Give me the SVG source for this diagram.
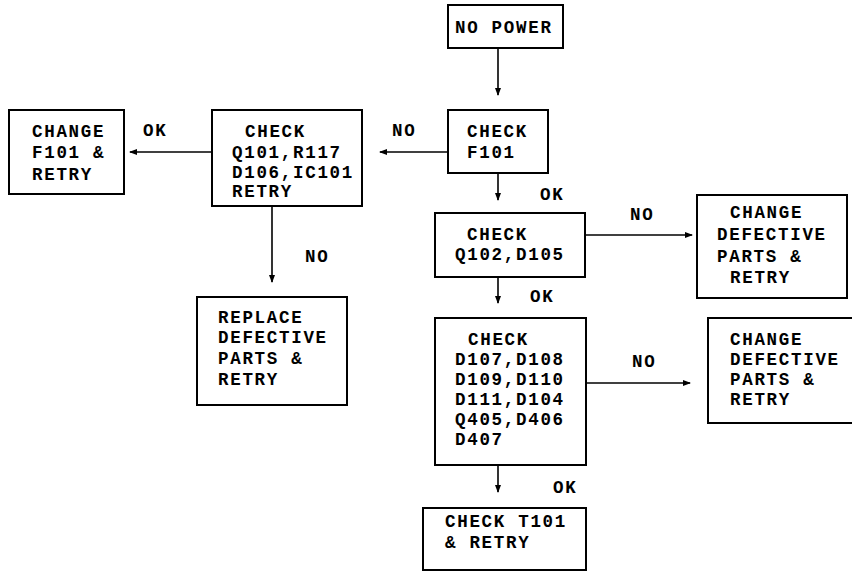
<svg xmlns="http://www.w3.org/2000/svg" width="852" height="571" viewBox="0 0 852 571">
<defs>
<style>
.box{fill:#fff;stroke:#000;stroke-width:2}
text{font-family:"Liberation Mono","Courier New",monospace;font-weight:bold;font-size:17.5px;letter-spacing:1.7px;fill:#000}
.ln{stroke:#000;stroke-width:1.6;fill:none}
</style>
<marker id="ah" markerWidth="8" markerHeight="6" refX="7" refY="3" orient="auto" markerUnits="userSpaceOnUse">
<path d="M0,0 L8,3 L0,6 z" fill="#000"/>
</marker>
</defs>
<rect width="852" height="571" fill="#fff"/>
<g id="connectors">
<line class="ln" x1="498" y1="48" x2="498" y2="95" marker-end="url(#ah)"/>
<line class="ln" x1="448" y1="152" x2="380" y2="152" marker-end="url(#ah)"/>
<line class="ln" x1="212" y1="152" x2="130" y2="152" marker-end="url(#ah)"/>
<line class="ln" x1="272" y1="206" x2="272" y2="282" marker-end="url(#ah)"/>
<line class="ln" x1="498" y1="173" x2="498" y2="200" marker-end="url(#ah)"/>
<line class="ln" x1="586" y1="235" x2="692" y2="235" marker-end="url(#ah)"/>
<line class="ln" x1="498" y1="277" x2="498" y2="303" marker-end="url(#ah)"/>
<line class="ln" x1="586" y1="383" x2="690" y2="383" marker-end="url(#ah)"/>
<line class="ln" x1="498" y1="465" x2="498" y2="492" marker-end="url(#ah)"/>
<text x="392" y="136">NO</text>
<text x="143" y="136">OK</text>
<text x="305" y="262">NO</text>
<text x="540" y="200">OK</text>
<text x="630" y="220">NO</text>
<text x="530" y="302">OK</text>
<text x="632" y="367">NO</text>
<text x="553" y="493">OK</text>
</g>
<g id="no-power">
<rect class="box" x="448" y="5" width="115" height="43"/>
<text x="455" y="33">NO POWER</text>
</g>
<g id="check-f101">
<rect class="box" x="448" y="110" width="100" height="63"/>
<text x="467" y="137">CHECK</text>
<text x="467" y="158">F101</text>
</g>
<g id="check-q101">
<rect class="box" x="212" y="110" width="150" height="96"/>
<text x="245" y="137">CHECK</text>
<text x="232" y="158">Q101,R117</text>
<text x="232" y="178">D106,IC101</text>
<text x="232" y="197">RETRY</text>
</g>
<g id="change-f101">
<rect class="box" x="9" y="110" width="115" height="84"/>
<text x="32" y="137">CHANGE</text>
<text x="32" y="158">F101 &amp;</text>
<text x="32" y="180">RETRY</text>
</g>
<g id="replace">
<rect class="box" x="197" y="297" width="150" height="108"/>
<text x="218" y="323">REPLACE</text>
<text x="218" y="343">DEFECTIVE</text>
<text x="218" y="364">PARTS &amp;</text>
<text x="218" y="385">RETRY</text>
</g>
<g id="check-q102">
<rect class="box" x="435" y="213" width="150" height="64"/>
<text x="467" y="240">CHECK</text>
<text x="455" y="260">Q102,D105</text>
</g>
<g id="change-1">
<rect class="box" x="697" y="195" width="150" height="103"/>
<text x="730" y="218">CHANGE</text>
<text x="717" y="240">DEFECTIVE</text>
<text x="717" y="262">PARTS &amp;</text>
<text x="730" y="283">RETRY</text>
</g>
<g id="check-d107">
<rect class="box" x="435" y="318" width="151" height="147"/>
<text x="468" y="345">CHECK</text>
<text x="455" y="365">D107,D108</text>
<text x="455" y="385">D109,D110</text>
<text x="455" y="405">D111,D104</text>
<text x="455" y="425">Q405,D406</text>
<text x="455" y="445">D407</text>
</g>
<g id="change-2">
<rect class="box" x="708" y="318" width="150" height="105"/>
<text x="730" y="345">CHANGE</text>
<text x="730" y="365">DEFECTIVE</text>
<text x="730" y="385">PARTS &amp;</text>
<text x="730" y="405">RETRY</text>
</g>
<g id="check-t101">
<rect class="box" x="423" y="508" width="163" height="62"/>
<text x="445" y="527">CHECK T101</text>
<text x="445" y="548">&amp; RETRY</text>
</g>
</svg>
